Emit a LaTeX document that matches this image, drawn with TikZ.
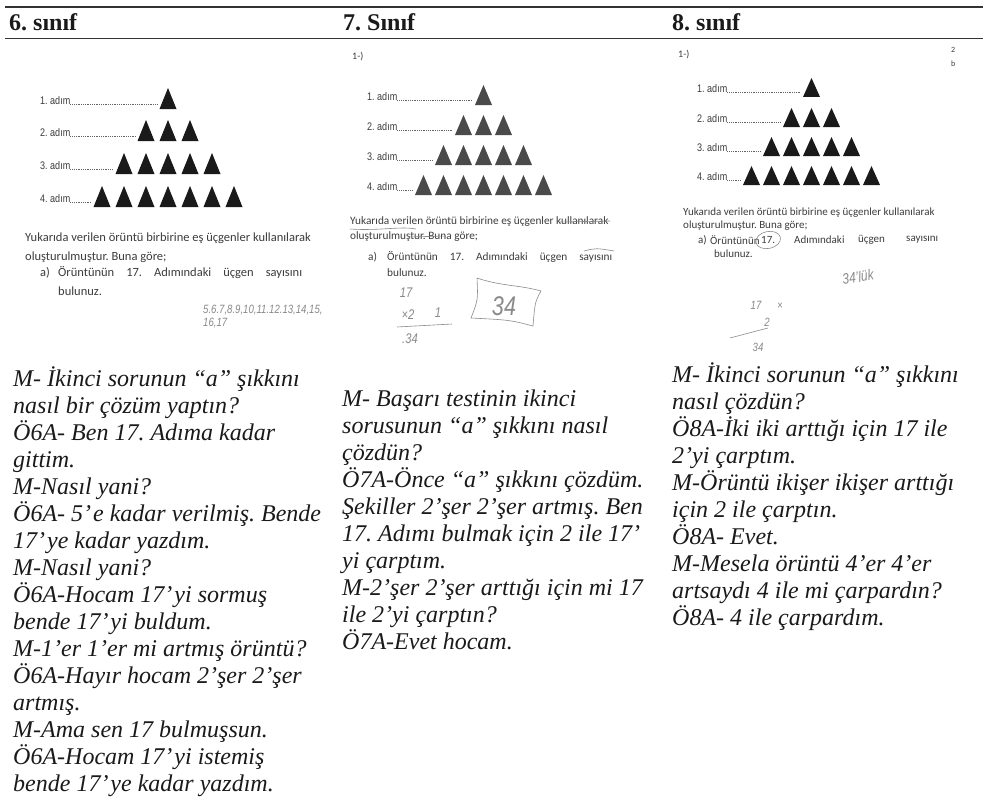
\documentclass[tikz,border=0pt]{standalone}
\usepackage{fontspec}
\setmainfont{Liberation Serif}
\newfontfamily\scanfont{Carlito}
\newfontfamily\narrowfont[FakeStretch=0.82]{Liberation Sans}
\newfontfamily\handfont[FakeStretch=0.8]{Liberation Sans}
\definecolor{ink}{HTML}{1A1A1A}
\definecolor{scan}{HTML}{3C3C3C}
\definecolor{scanb}{HTML}{4A4A4A}
\definecolor{pen}{HTML}{8A8A8A}
\frenchspacing
\tikzset{
  body/.style={anchor=base west, inner sep=0pt, font=\fontsize{24}{27}\selectfont\itshape, text=ink},
  head/.style={anchor=base west, inner sep=0pt, font=\fontsize{24}{27}\selectfont\bfseries, text=ink},
  lbl/.style={anchor=west, inner sep=0pt, font=\narrowfont\fontsize{11}{12}\selectfont, text=scan},
  para/.style={anchor=west, inner sep=0pt, text=scan},
  hand/.style={inner sep=0pt, text=pen},
  leader/.style={draw=scan!80, line width=0.6pt, dash pattern=on 0.5pt off 1.3pt},
  rulebar/.style={line width=1.6pt, draw=black!80},
  penline/.style={draw=pen, line width=0.6pt},
}
% #1 prefix, #2 label x, #3 centre x, #4 pitch, #5 height, #6 bases, #7 colour
\newcommand\pyr[7]{%
  \foreach \yb [count=\n] in {#6} {
    \pgfmathtruncatemacro\k{2*\n-1}
    \pgfmathsetmacro\xs{#3-8.5-#4*(\n-1)}
    \node[lbl] (#1l\n) at (#2,\yb-8) {\n. adım};
    \coordinate (#1e\n) at (\xs-2,\yb-5);
    \draw[leader] (#1l\n.east |- #1e\n) -- (#1e\n);
    \foreach \j in {1,...,\k} {
      \fill[#7] ({\xs+#4*(\j-1)},\yb) -- ++(17,0) -- ++(-8.5,-#5) -- cycle;
    }
  }%
}
\begin{document}
\begin{tikzpicture}[x=1pt,y=-1pt]
\useasboundingbox (0,0) rectangle (983,808);
\fill[white] (0,0) rectangle (983,808);
% header rules
\coordinate (r1a) at (5,7);   \coordinate (r1b) at (983,7);
\coordinate (r2a) at (5,38.5); \coordinate (r2b) at (983,38.5);
\draw[rulebar] (r1a) -- (r1b);
\draw[rulebar] (r2a) -- (r2b);
\node[head] (h6) at (9,31) {6. sınıf};
\node[head] (h7) at (343,31) {7. Sınıf};
\node[head] (h8) at (672,31) {8. sınıf};

% ---------- column 1 scan ----------
\pyr{a}{40}{168}{22}{21}{109,141,174,207}{ink}
\begin{scope}[every node/.append style={para, font=\scanfont\fontsize{12.5}{14}\selectfont}]
\node (p1a) at (25,238) {Yukarıda verilen örüntü birbirine eş üçgenler kullanılarak};
\node (p1b) at (25,257) {oluşturulmuştur. Buna göre;};
\node (p1c) at (40,273) {a)};
\node (p1d) at (58,273) {\makebox[244pt][s]{Örüntünün 17. Adımındaki üçgen sayısını}};
\node (p1e) at (58,291) {bulunuz.};
\end{scope}
\node[hand, anchor=west, font=\handfont\itshape\fontsize{12}{13}\selectfont] (w1a) at (203,310) {5.6.7,8.9,10,11.12.13,14,15,};
\node[hand, anchor=west, font=\handfont\itshape\fontsize{12}{13}\selectfont] (w1b) at (203,323) {16,17};

% ---------- column 2 scan ----------
\node[para, font=\scanfont\fontsize{10}{11}\selectfont] (n2) at (352,57) {1-)};
\pyr{b}{367}{483.5}{20}{20}{105,135,165,195}{scanb}
\begin{scope}[every node/.append style={para, font=\scanfont\fontsize{11.3}{13}\selectfont}]
\node (p2a) at (350,222) {Yukarıda verilen örüntü birbirine eş üçgenler kullanılarak};
\node (p2b) at (350,237) {oluşturulmuştur. Buna göre;};
\node (p2c) at (368,257) {a)};
\node (p2d) at (387,257) {\makebox[225pt][s]{Örüntünün 17. Adımındaki üçgen sayısını}};
\node (p2e) at (387,273) {bulunuz.};
\end{scope}
% pen marks on the printed text
\draw[penline] (350,229) .. controls (380,231) and (400,226) .. (416,229);
\draw[penline] (560,222) -- (610,221);
\draw[penline] (408,237) -- (446,236);
\draw[penline] (584,251) .. controls (596,248) .. (614,251);
% handwriting
\begin{scope}[every node/.append style={hand, font=\handfont\itshape\fontsize{14}{15}\selectfont}]
\node (w2a) at (406,293) {17};
\node (w2b) at (408,315) {×2};
\node (w2c) at (438,313) {1};
\node (w2d) at (410,339) {.34};
\end{scope}
\coordinate (u2a) at (397,327); \coordinate (u2b) at (452,324);
\draw[penline] (u2a) -- (u2b);
\coordinate (bx1) at (477,278); \coordinate (bx2) at (541,291);
\coordinate (bx3) at (533,326); \coordinate (bx4) at (471,318);
\draw[penline] (bx1) .. controls (500,286) and (520,285) .. (bx2)
  .. controls (535,302) .. (bx3) .. controls (510,320) .. (bx4)
  .. controls (478,300) .. (bx1);
\node[hand, font=\handfont\itshape\fontsize{27}{28}\selectfont] (w2e) at (504,306) {34};

% ---------- column 3 scan ----------
\node[para, font=\scanfont\fontsize{10}{11}\selectfont] (n3) at (678,55) {1-)};
\node[para, font=\scanfont\fontsize{8}{9}\selectfont] (n3x) at (951,50) {2};
\node[para, font=\scanfont\fontsize{8}{9}\selectfont] (n3y) at (951,64) {b};
\pyr{c}{697}{811.5}{20}{19}{97,127,156,185}{ink}
\begin{scope}[every node/.append style={para, font=\scanfont\fontsize{11}{12}\selectfont}]
\node (p3a) at (683,213) {Yukarıda verilen örüntü birbirine eş üçgenler kullanılarak};
\node (p3b) at (683,226) {oluşturulmuştur. Buna göre;};
\node (p3c) at (698,240) {a)};
\node (p3d) at (710,240) {Örüntünün};
\node (p3k) at (761,240) {17.};
\node (p3f) at (794,240) {Adımındaki};
\node (p3g) at (858,240) {üçgen};
\node (p3h) at (906,240) {sayısını};
\node (p3e) at (714,254) {bulunuz.};
\end{scope}
\draw[penline, rotate around={12:(p3k.center)}] (p3k.center) ellipse [x radius=12.5pt, y radius=8.5pt];
\node[hand, rotate=8, font=\handfont\itshape\fontsize{15}{16}\selectfont] (w3a) at (858,277) {34’lük};
\begin{scope}[every node/.append style={hand, font=\handfont\itshape\fontsize{12}{13}\selectfont}]
\node (w3b) at (756,305) {17};
\node (w3c) at (780,306) {×};
\node (w3d) at (767,322) {2};
\node (w3e) at (758,347) {34};
\end{scope}
\coordinate (u3a) at (730,338); \coordinate (u3b) at (768,328);
\draw[penline] (u3a) -- (u3b);

% ---------- dialogue text ----------
\foreach \t [count=\i] in {%
M- İkinci sorunun “a” şıkkını,%
nasıl bir çözüm yaptın?,%
Ö6A- Ben 17. Adıma kadar,%
gittim.,%
M-Nasıl yani?,%
Ö6A- 5’\kern2pt e kadar verilmiş. Bende,%
17’\kern2pt ye kadar yazdım.,%
M-Nasıl yani?,%
Ö6A-Hocam 17’\kern2pt yi sormuş,%
bende 17’\kern2pt yi buldum.,%
M-1’er 1’er mi artmış örüntü?,%
Ö6A-Hayır hocam 2’şer 2’şer,%
artmış.,%
M-Ama sen 17 bulmuşsun.,%
Ö6A-Hocam 17’\kern2pt yi istemiş,%
bende 17’\kern2pt ye kadar yazdım.}
  { \node[body] (d1-\i) at ({13},{386+27*(\i-1)}) {\t}; }

\foreach \t [count=\i] in {%
M- Başarı testinin ikinci,%
sorusunun “a” şıkkını nasıl,%
çözdün?,%
Ö7A-Önce “a” şıkkını çözdüm.,%
Şekiller 2’şer 2’şer artmış. Ben,%
17. Adımı bulmak için 2 ile 17’,%
yi çarptım.,%
M-2’şer 2’şer arttığı için mi 17,%
ile 2’yi çarptın?,%
Ö7A-Evet hocam.}
  { \node[body] (d2-\i) at ({342},{406+27*(\i-1)}) {\t}; }

\foreach \t [count=\i] in {%
M- İkinci sorunun “a” şıkkını,%
nasıl çözdün?,%
Ö8A-İki iki arttığı için 17 ile,%
2’yi çarptım.,%
M-Örüntü ikişer ikişer arttığı,%
için 2 ile çarptın.,%
Ö8A- Evet.,%
M-Mesela örüntü 4’er 4’er,%
artsaydı 4 ile mi çarpardın?,%
Ö8A- 4 ile çarpardım.}
  { \node[body] (d3-\i) at ({672},{382+27*(\i-1)}) {\t}; }
\end{tikzpicture}
\end{document}
